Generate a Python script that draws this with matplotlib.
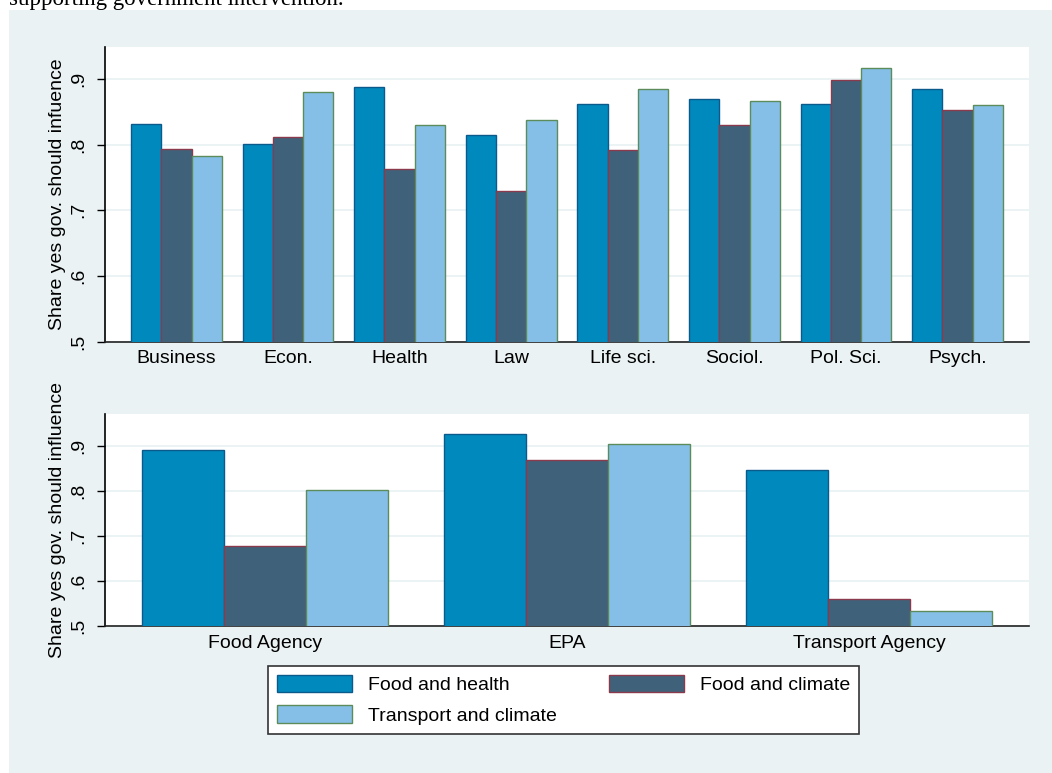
import matplotlib
matplotlib.use("Agg")
import matplotlib.pyplot as plt
import numpy as np
from matplotlib.patches import Patch, Rectangle

# ---- data -------------------------------------------------------------
series = ["Food and health", "Food and climate", "Transport and climate"]

fields = ["Business", "Econ.", "Health", "Law", "Life sci.", "Sociol.", "Pol. Sci.", "Psych."]
field_food_health = [0.832, 0.801, 0.887, 0.815, 0.862, 0.870, 0.862, 0.885]
field_food_climate = [0.794, 0.811, 0.763, 0.730, 0.791, 0.830, 0.898, 0.853]
field_transport_climate = [0.783, 0.880, 0.830, 0.838, 0.884, 0.867, 0.917, 0.860]

agencies = ["Food Agency", "EPA", "Transport Agency"]
agency_food_health = [0.891, 0.925, 0.847]
agency_food_climate = [0.677, 0.869, 0.560]
agency_transport_climate = [0.801, 0.904, 0.535]

y_ticks = [0.5, 0.6, 0.7, 0.8, 0.9]
y_tick_labels = [".5", ".6", ".7", ".8", ".9"]

# ---- style ------------------------------------------------------------
plt.rcParams["font.family"] = ["Liberation Sans", "DejaVu Sans"]
BG = "#EAF2F3"
fills = ["#0089BD", "#3F627A", "#85BFE8"]
edges = ["#0B5A8C", "#8A3A4C", "#5B8C5A"]

W, H = 1052, 773
fig = plt.figure(figsize=(W / 100, H / 100), dpi=100, facecolor="white")

# graph region background
fig.add_artist(Rectangle((9 / W, 0), 1 - 9 / W, 1 - 10 / H, transform=fig.transFigure,
                         facecolor=BG, edgecolor="none", zorder=-5))

# running text of the surrounding page
fig.text(9 / W, 1 - 5.5 / H, "supporting government intervention.",
         family=["Liberation Serif", "DejaVu Serif"], fontsize=16.5,
         ha="left", va="baseline", color="black")


def grouped_bars(ax, cats, values, xlim, ylim_top, ylabel, xpad):
    x = np.arange(len(cats))
    group = 0.815
    bw = group / 3
    for k, vals in enumerate(values):
        ax.bar(x + (k - 1) * bw, vals, width=bw, color=fills[k], edgecolor=edges[k],
               linewidth=1.0, zorder=3)
    ax.set_xlim(*xlim)
    ax.set_ylim(0.5, ylim_top)
    ax.set_xticks(x)
    ax.set_xticklabels(cats, fontsize=14)
    ax.set_yticks(y_ticks)
    ax.set_yticklabels(y_tick_labels, fontsize=14, rotation=90, va="center")
    ax.tick_params(axis="x", length=0, pad=xpad)
    ax.tick_params(axis="y", length=6, width=1.0, pad=6.5, direction="out")
    ax.set_ylabel(ylabel, fontsize=14, labelpad=3)
    ax.grid(axis="y", color=BG, linewidth=1.3)
    ax.set_axisbelow(True)
    for s in ("top", "right"):
        ax.spines[s].set_visible(False)
    ax.spines["left"].set_linewidth(1.2)
    ax.spines["bottom"].set_linewidth(1.2)
    ax.spines["left"].set_color("black")
    ax.spines["bottom"].set_color("#222222")
    ax.set_facecolor("white")


ax1 = fig.add_axes([105 / W, 1 - 341.7 / H, 924 / W, (341.7 - 47.3) / H])
grouped_bars(ax1, fields,
             [field_food_health, field_food_climate, field_transport_climate],
             (-0.64, 7.64), 0.948, "Share yes gov. should infuence", 6.0)

ax2 = fig.add_axes([105 / W, 1 - 626.3 / H, 924 / W, (626.3 - 413.7) / H])
grouped_bars(ax2, agencies,
             [agency_food_health, agency_food_climate, agency_transport_climate],
             (-0.53, 2.53), 0.971, "Share yes gov. should influence", 6.5)

# legend: row 1 = first two series, row 2 = third
handles = [Patch(facecolor=fills[k], edgecolor=edges[k], linewidth=1.0) for k in range(3)]
order = [0, 2, 1]
leg = fig.legend([handles[i] for i in order], [series[i] for i in order], ncol=2,
                 loc="upper left", bbox_to_anchor=(268 / W, 1 - 666 / H),
                 bbox_transform=fig.transFigure, borderaxespad=0, fontsize=14,
                 frameon=True, fancybox=False, framealpha=1, edgecolor="#333333",
                 handlelength=3.86, handleheight=0.98, handletextpad=0.82,
                 columnspacing=2.68, labelspacing=0.58, borderpad=0.46)
leg.get_frame().set_linewidth(1.2)

fig.savefig("out.png", dpi=100, facecolor="white")
